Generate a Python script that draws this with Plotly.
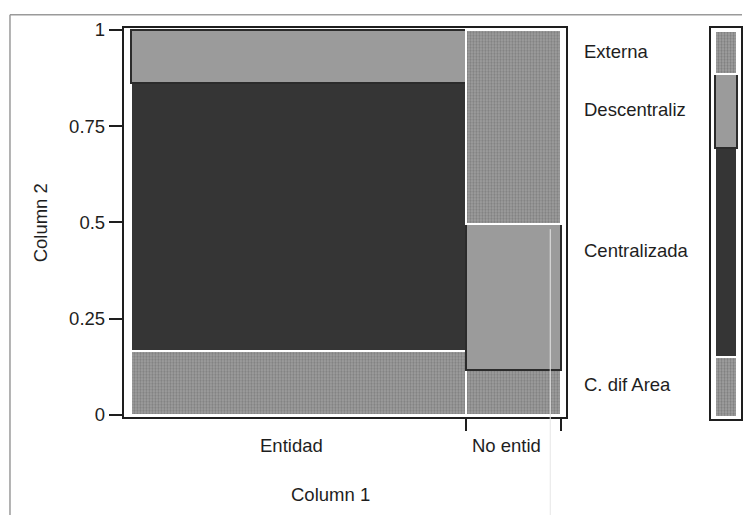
import numpy as np
import plotly.graph_objects as go

# ---------------- data ----------------
columns = ["Entidad", "No entid"]
column_share = [0.779, 0.221]
levels = ["C. dif Area", "Centralizada", "Descentraliz", "Externa"]
entidad_share = [0.167, 0.694, 0.139, 0.0]
no_entid_share = [0.117, 0.0, 0.380, 0.503]
y_ticks = [0, 0.25, 0.5, 0.75, 1]
y_tick_labels = ["0", "0.25", "0.5", "0.75", "1"]
x_title = "Column 1"
y_title = "Column 2"

# ---------------- helpers ----------------
W, H = 743, 524


def px(x):
    return x / W


def py(y):
    return 1 - y / H


shares = np.array([entidad_share, no_entid_share])
col_share = np.array(column_share)
col_right = np.cumsum(col_share)
col_left = col_right - col_share
col_center = (col_left + col_right) / 2
marginal = (shares * col_share[:, None]).sum(axis=0)
marg_cum = np.cumsum(marginal)

FONT = "Liberation Sans, Arial, sans-serif"
INK = "#1e1e1e"
FS = 18.5

styles = {
    "C. dif Area": dict(color="#8a8a8a", pattern=True, line="white"),
    "Centralizada": dict(color="#353535", pattern=False, line="white"),
    "Descentraliz": dict(color="#9b9b9b", pattern=False, line="#2b2b2b"),
    "Externa": dict(color="#8a8a8a", pattern=True, line="white"),
}


def marker_for(level):
    st = styles[level]
    m = dict(color=st["color"], line=dict(color=st["line"], width=2))
    if st["pattern"]:
        m["pattern"] = dict(shape=".", fgcolor="#555555", bgcolor="#a2a2a2",
                            size=3, solidity=0.45)
    return m


fig = go.Figure()

# main mosaic
for i, lev in enumerate(levels):
    vals = [shares[c, i] if shares[c, i] > 0 else None for c in range(len(columns))]
    fig.add_trace(go.Bar(
        x=col_center, y=vals, width=col_share,
        marker=marker_for(lev), name=lev, showlegend=False,
        xaxis="x", yaxis="y", hoverinfo="skip",
    ))

# marginal strip on the right
for i, lev in enumerate(levels):
    fig.add_trace(go.Bar(
        x=[0.5], y=[marginal[i]], width=[0.74],
        marker=marker_for(lev), name=lev, showlegend=False,
        xaxis="x3", yaxis="y3", hoverinfo="skip",
    ))

axis_common = dict(showgrid=False, zeroline=False, linecolor=INK, linewidth=2,
                   tickcolor=INK, tickwidth=2)

annotations = []
for i, lev in enumerate(levels):
    annotations.append(dict(
        text=lev, x=px(583), xref="paper", xanchor="left",
        y=marg_cum[i] - marginal[i] / 2, yref="y", yanchor="middle",
        showarrow=False, font=dict(size=FS, color=INK, family=FONT)))
for c, name in enumerate(columns):
    annotations.append(dict(
        text=name, x=col_center[c], xref="x", xanchor="center", xshift=-7,
        y=py(452), yref="paper", yanchor="middle",
        showarrow=False, font=dict(size=FS, color=INK, family=FONT)))
annotations.append(dict(text=x_title, x=px(331), xref="paper", xanchor="center",
                        y=py(503), yref="paper", yanchor="middle",
                        showarrow=False, font=dict(size=FS, color=INK, family=FONT)))
annotations.append(dict(text=y_title, x=px(40), xref="paper", xanchor="center",
                        y=py(221), yref="paper", yanchor="middle",
                        textangle=-90, showarrow=False,
                        font=dict(size=FS, color=INK, family=FONT)))

shapes = [
    dict(type="line", xref="paper", yref="paper", x0=px(10), x1=1, y0=py(6), y1=py(6),
         line=dict(color="#9a9a9a", width=1.5)),
    dict(type="line", xref="paper", yref="paper", x0=px(10), x1=px(10), y0=py(6), y1=0,
         line=dict(color="#9a9a9a", width=1.5)),
    dict(type="line", xref="paper", yref="paper", x0=px(551), x1=px(551), y0=py(228), y1=0,
         line=dict(color="#e6e6e6", width=1)),
]

fig.update_layout(
    width=W, height=H, autosize=False,
    margin=dict(l=0, r=0, t=0, b=0),
    paper_bgcolor="white", plot_bgcolor="white",
    barmode="stack",
    font=dict(family=FONT, size=FS, color=INK),
    xaxis=dict(domain=[px(124), px(567)], range=[-0.016, 1.012], anchor="y",
               tickvals=list(col_right), ticktext=["" for _ in col_right],
               ticks="outside", ticklen=12, showline=True, mirror=True,
               fixedrange=True, **axis_common),
    yaxis=dict(domain=[py(422), py(20)], range=[-0.004, 1.004], anchor="x",
               tickvals=y_ticks, ticktext=y_tick_labels, ticks="outside", ticklen=13,
               showline=True, mirror=True, tickfont=dict(size=FS, color=INK, family=FONT),
               fixedrange=True, **axis_common),
    yaxis2=dict(overlaying="y", side="right", anchor="x", range=[-0.004, 1.004],
                tickvals=list(marg_cum), ticks="outside", ticklen=13,
                showticklabels=False, showline=False, fixedrange=True, **axis_common),
    xaxis3=dict(domain=[px(712), px(742)], range=[0, 1], anchor="y3",
                showline=True, mirror=True, ticks="", showticklabels=False,
                fixedrange=True, **axis_common),
    yaxis3=dict(domain=[py(425), py(20)], range=[-0.006, 1.006], anchor="x3",
                showline=True, mirror=True, ticks="", showticklabels=False,
                fixedrange=True, **axis_common),
    annotations=annotations,
    shapes=shapes,
)

fig.write_html(
    "out.html",
    config={"displayModeBar": False},
    post_script="document.body.style.margin='0';document.body.style.overflow='hidden';",
)
